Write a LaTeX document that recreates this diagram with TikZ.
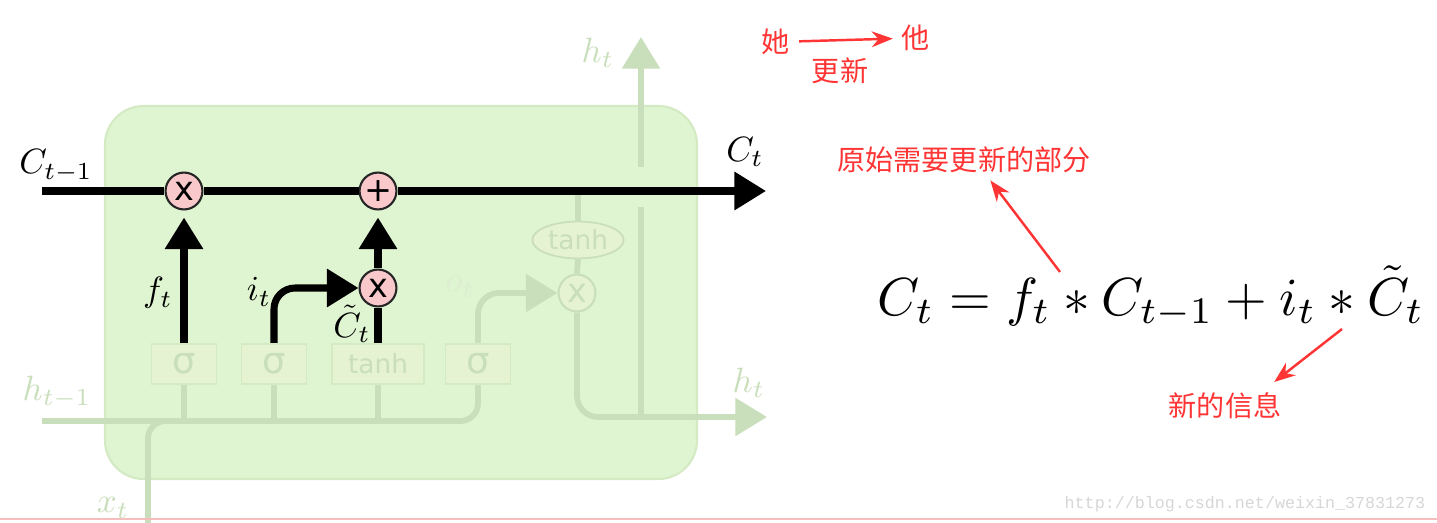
\documentclass[tikz,border=0pt]{standalone}
\usepackage{fontspec}
\usetikzlibrary{arrows.meta,shapes.geometric,calc}
\newfontfamily\cjk{Noto Sans CJK SC}
\newfontfamily\gatefont{DejaVu Sans}
\newfontfamily\wmfont{Liberation Mono}
\definecolor{cellfill}{HTML}{DFF5D1}
\definecolor{celledge}{HTML}{D3EAC3}
\definecolor{fadedgreen}{HTML}{C9DEBA}
\definecolor{fadedlight}{HTML}{DCEDD0}
\definecolor{gatefill}{HTML}{E6F3D3}
\definecolor{opfill}{HTML}{F8C8CA}
\definecolor{annred}{HTML}{FF3434}
\definecolor{wmgray}{HTML}{D6D6D6}
\definecolor{rulepink}{HTML}{F5BDBE}
\tikzset{
  cellbg/.style={fill=cellfill, draw=celledge, line width=1.2pt, rounded corners=22pt},
  gatebox/.style={draw=celledge, fill=gatefill, line width=1pt, text=fadedgreen,
    minimum width=37pt, minimum height=23pt, inner sep=0pt,
    font=\gatefont\fontsize{15}{17}\selectfont},
  sigmabox/.style={gatebox, font=\gatefont\fontsize{21}{21}\selectfont},
  opnode/.style={circle, draw=black!85, fill=opfill, line width=1.2pt,
    minimum size=21pt, inner sep=0pt, font=\gatefont\fontsize{19}{19}\selectfont},
  opfaded/.style={opnode, draw=fadedgreen, fill=gatefill, text=fadedgreen},
  squash/.style={ellipse, draw=fadedgreen, fill=gatefill, line width=1pt, text=fadedgreen,
    minimum width=52pt, minimum height=21pt, inner sep=0pt,
    font=\gatefont\fontsize{15}{17}\selectfont},
  cellline/.style={line width=4pt, black},
  fadedline/.style={line width=3.3pt, fadedgreen},
  bigtip/.style={-{Triangle[length=18pt,width=21pt]}},
  lbl/.style={scale=2, inner sep=0pt},
  lblfaded/.style={lbl, text=fadedgreen},
  annot/.style={text=annred, inner sep=0pt, font=\cjk\fontsize{16}{19}\selectfont},
  annline/.style={annred, line width=1.4pt, -{Stealth[length=12pt,width=9pt]}},
  wmark/.style={text=wmgray, font=\wmfont\fontsize{9.5}{11}\selectfont},
  pinkrule/.style={rulepink, line width=1.2pt}
}
\begin{document}
\begin{tikzpicture}[x=0.02cm,y=-0.02cm]
\useasboundingbox (0,0) rectangle (1437,523);
\filldraw[cellbg] (105,106) rectangle (697,479);
%
% gates and pointwise operations
%
\node[sigmabox] (gf) at (184,364) {σ};
\node[sigmabox] (gi) at (274,364) {σ};
\node[gatebox, minimum width=52pt] (gc) at (378,364) {tanh};
\node[sigmabox] (go) at (478,364) {σ};
\node[opnode] (mf) at (184,191) {x};
\node[opnode] (ma) at (378,191) {+};
\node[opnode] (mi) at (378,288) {x};
\node[opfaded] (mo) at (577,293) {x};
\node[squash] (to) at (578,240) {tanh};
%
\coordinate (cin) at (42,191);
\coordinate (cout) at (766,191);
\coordinate (hin) at (42,421);
\coordinate (xin) at (148,523);
\coordinate (hout) at (767,417);
\coordinate (hj) at (641,417);
\coordinate (hgap) at (641,207);
\coordinate (hup) at (641,167);
\coordinate (htop) at (641,37);
%
% faded part of the cell
%
\draw[fadedline, rounded corners=10pt] (hin) -| (go.south);
\draw[fadedline, rounded corners=10pt] (xin) |- (gc.south |- hin);
\draw[fadedline] (gf.south) -- (gf.south |- hin);
\draw[fadedline] (gi.south) -- (gi.south |- hin);
\draw[fadedline] (gc.south) -- (gc.south |- hin);
\draw[fadedline, bigtip, rounded corners=12pt] (go.north) |- (mo.west);
\draw[fadedline] (to.north |- cin) -- (to.north);
\draw[fadedline] (to.south) -- (mo.north);
\draw[fadedline, bigtip, rounded corners=12pt] (mo.south) |- (hout);
\draw[fadedline] (hj) -- (hgap);
\draw[fadedline, bigtip] (hup) -- (htop);
%
% cell state and gate outputs
%
\draw[cellline] (cin) -- (mf);
\draw[cellline] (mf) -- (ma);
\draw[cellline, bigtip] (ma) -- (cout);
\draw[cellline, bigtip, shorten >=4pt] (gf.north) -- (mf.south);
\draw[cellline, bigtip, rounded corners=12pt] (gi.north) |- (mi.west);
\draw[cellline] (gc.north) -- (mi.south);
\draw[cellline, bigtip, shorten >=4pt] (mi.north) -- (ma.south);
%
\node[lbl] (lcp) at (56,166) {$C_{t-1}$};
\node[lbl] (lc) at (745,152) {$C_t$};
\node[lbl] (lf) at (158,293) {$f_t$};
\node[lbl] (li) at (259,292) {$i_t$};
\node[lbl] (lct) at (352,324) {$\tilde{C}_t$};
\node[lblfaded] (lh) at (57,392) {$h_{t-1}$};
\node[lblfaded] (lx) at (113,508) {$x_t$};
\node[lblfaded, text=fadedlight] (lo) at (460,287) {$o_t$};
\node[lblfaded] (lht) at (598,53) {$h_t$};
\node[lblfaded] (lhb) at (749,383) {$h_t$};
%
% notes
%
\node[annot] (she) at (776,42) {她};
\node[annot] (he) at (916,38) {他};
\node[annot] (upd) at (840,71) {更新};
\node[annot] (orig) at (964,160) {原始需要更新的部分};
\node[annot] (info) at (1225,406) {新的信息};
\node[scale=3.05] (eq) at (1151,297) {$C_t = f_t * C_{t-1} + i_t * \tilde{C}_t$};
\coordinate (fa) at (1060,272);
\coordinate (ia) at (1342,329);
\draw[annline, shorten <=5pt, shorten >=5pt] (she) -- (he);
\draw[annline] (fa) -- ([xshift=15pt,yshift=-4pt]orig.south);
\draw[annline] (ia) -- ([xshift=28pt,yshift=6pt]info.north);
%
\node[wmark] (wm) at (1245,504) {http://blog.csdn.net/weixin\_37831273};
\coordinate (rl) at (0,519);
\coordinate (rr) at (1437,519);
\draw[pinkrule] (rl) -- (rr);
\end{tikzpicture}
\end{document}
